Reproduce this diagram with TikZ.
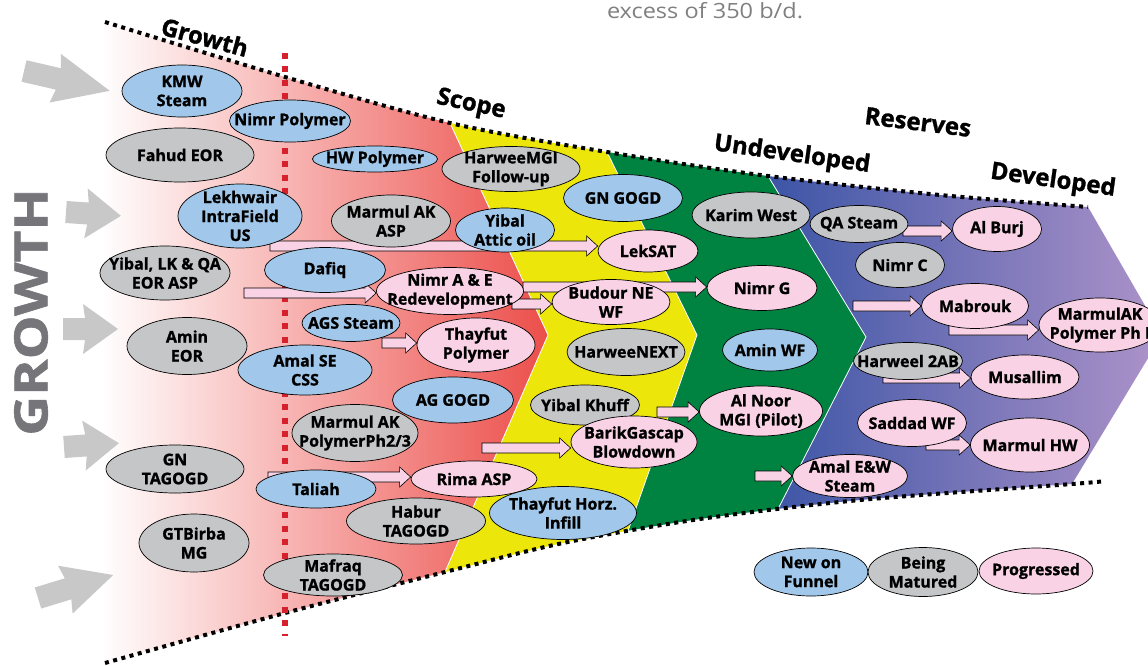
\documentclass[tikz,border=0pt]{standalone}
\usepackage{fontspec}
\setmainfont{Open Sans}[BoldFeatures={FakeBold=1.2}]
\usetikzlibrary{shapes.geometric,calc}

\definecolor{newblue}{RGB}{161,200,234}
\definecolor{matgray}{RGB}{197,198,200}
\definecolor{progpink}{RGB}{249,211,229}
\definecolor{scopeyellow}{RGB}{237,230,10}
\definecolor{undevgreen}{RGB}{0,130,64}
\definecolor{growred}{RGB}{236,78,74}
\definecolor{devblue}{RGB}{60,85,166}
\definecolor{devlilac}{RGB}{176,148,202}
\definecolor{arrowgray}{RGB}{200,200,201}
\definecolor{titlegray}{RGB}{118,118,122}
\definecolor{notegray}{RGB}{128,128,128}
\definecolor{cutred}{RGB}{214,32,44}

\pgfdeclarelayer{bands}
\pgfdeclarelayer{links}
\pgfsetlayers{bands,links,main}

\tikzset{
  pod/.style={ellipse, draw=black, line width=0.7pt, inner sep=0pt},
  newf/.style={pod, fill=newblue},
  matd/.style={pod, fill=matgray},
  prog/.style={pod, fill=progpink},
  sz/.style 2 args={minimum width=#1pt, minimum height=#2pt},
  podtext/.style={font=\bfseries\fontsize{16}{19}\selectfont, align=center, inner sep=0pt},
  stagetitle/.style={font=\bfseries\fontsize{24}{24}\selectfont, inner sep=0pt},
  funnelline/.style={line width=4pt, dash pattern=on 4pt off 4.5pt},
  cutline/.style={cutred, line width=6pt, dash pattern=on 6pt off 7.5pt},
  pushto/.style={draw=black, line width=0.6pt, fill=progpink,
    to path={let \p1=(\tikztostart), \p2=(\tikztotarget) in
      (\x1,\y1+5pt) -- (\x2-11pt,\y1+5pt) -- (\x2-11pt,\y1+10pt) -- (\x2,\y1)
      -- (\x2-11pt,\y1-10pt) -- (\x2-11pt,\y1-5pt) -- (\x1,\y1-5pt) -- cycle}},
  feedarrow/.pic={\fill[arrowgray] (0,-11) -- (22,-11) -- (20,-25) -- (55,0)
      -- (20,25) -- (22,11) -- (0,11) -- cycle;},
}

\begin{document}
\begin{tikzpicture}[x=1pt, y=-1pt]
  \useasboundingbox (0,0) rectangle (1148,666);

  \begin{pgfonlayer}{bands}
  \fill[white] (0,0) rectangle (1148,666);
  %% funnel bands
  \begin{scope}
    \clip plot[smooth] coordinates {(105,22) (285,77) (450,123) (607,152) (768,176) (940,195) (1088,207)}
      -- (1162,335) -- (1072,484)
      -- plot[smooth] coordinates {(1072,484) (860,500) (700,519) (563,543) (445,572) (285,613) (105,663)}
      -- cycle;
    \shade[left color=white, right color=growred]
      (100,0) -- (450,0) -- (450,123) -- (548,335) -- (445,572) -- (445,666) -- (100,666) -- cycle;
    \fill[scopeyellow]
      (450,0) -- (450,123) -- (548,335) -- (445,572) -- (445,666)
      -- (628,666) -- (628,531) -- (697,335) -- (607,152) -- (607,0) -- cycle;
    \fill[undevgreen]
      (607,0) -- (607,152) -- (697,335) -- (628,531) -- (628,666)
      -- (778,666) -- (778,509) -- (866,337) -- (768,176) -- (768,0) -- cycle;
    \shade[left color=devblue, right color=devlilac]
      (768,0) -- (768,176) -- (866,337) -- (778,509) -- (778,666) -- (1170,666) -- (1170,0) -- cycle;
    \draw[white, line width=0.8pt]
      (450,123) -- (548,335) -- (445,572)
      (607,152) -- (697,335) -- (628,531)
      (768,176) -- (866,337) -- (778,509);
  \end{scope}
  %% funnel edges
  \draw[funnelline] plot[smooth] coordinates {(105,22) (285,77) (450,123) (607,152) (768,176) (940,195) (1088,207)};
  \draw[funnelline] plot[smooth] coordinates {(105,663) (285,613) (445,572) (563,543) (700,519) (860,500) (1072,484) (1105,481)};
  \draw[cutline] (285,53) -- (285,636);
  %% growth feed
  \pic[rotate=-13, xscale=1.6] at (24,71) {feedarrow};
  \pic[rotate=-4] at (66,212) {feedarrow};
  \pic at (63,329) {feedarrow};
  \pic[rotate=4] at (64,447) {feedarrow};
  \pic[rotate=17, xscale=1.43] at (38,598) {feedarrow};
  \end{pgfonlayer}

  \node[rotate=90, font=\bfseries\fontsize{46}{46}\selectfont, text=titlegray, inner sep=0pt]
    (growthtag) at (31,312) {\scalebox{1.2}[1]{GROWTH}};

  %% stage titles
  \node[stagetitle, rotate=-15] (tgrowth) at (205,37) {Growth};
  \node[stagetitle, rotate=-12] (tscope) at (471,105) {Scope};
  \node[stagetitle, rotate=-8] (tundev) at (792,155) {Undeveloped};
  \node[stagetitle, rotate=-7] (treserves) at (918,122) {Reserves};
  \node[stagetitle, rotate=-8] (tdev) at (1053,181) {Developed};
  \node[font=\fontsize{21}{21}\selectfont, text=notegray, inner sep=0pt]
    (note) at (705,11) {\scalebox{1.12}[1]{excess of 350 b/d.}};

  %% arrow tails
  \coordinate (lekT) at (270,246);
  \coordinate (dafT) at (244,293);
  \coordinate (nimrgT) at (523,287);
  \coordinate (budT) at (512,304);
  \coordinate (thayT) at (382,343);
  \coordinate (noorT) at (657,412);
  \coordinate (barikT) at (482,448);
  \coordinate (rimaT) at (268,477);
  \coordinate (amalT) at (755,476);
  \coordinate (burjT) at (903,231);
  \coordinate (mabT) at (853,306);
  \coordinate (makT) at (949,330);
  \coordinate (musT) at (883,378);
  \coordinate (hwT) at (926,445);

  %% projects
  \node[newf, sz={120}{52}, label={[podtext]center:KMW\\Steam}] (kmw) at (182,91) {};
  \node[newf, sz={121}{42}, label={[podtext]center:Nimr Polymer}] (nimrpoly) at (290,121) {};
  \node[matd, sz={148}{54}, label={[podtext]center:Fahud EOR}] (fahud) at (180,155) {};
  \node[newf, sz={125}{26}, label={[podtext]center:HW Polymer}] (hwpoly) at (375,159) {};
  \node[matd, sz={138}{45}, label={[podtext]center:HarweeMGI\\Follow-up}] (harmgi) at (511,169) {};
  \node[newf, sz={119}{47}, label={[podtext]center:GN GOGD}] (gngogd) at (623,198) {};
  \node[matd, sz={118}{46}, label={[podtext]center:Karim West}] (karim) at (751,215) {};
  \node[matd, sz={89}{45}, label={[podtext]center:Nimr C}] (nimrc) at (900,265) {};
  \node[matd, sz={130}{54}, label={[podtext]center:Yibal, LK \& QA\\EOR ASP}] (yibeor) at (165,273) {};
  \node[matd, sz={120}{57}, label={[podtext]center:Amin\\EOR}] (amineor) at (187,346) {};
  \node[matd, sz={138}{48}, label={[podtext]center:GN\\TAGOGD}] (gntag) at (175,469) {};
  \node[matd, sz={110}{58}, label={[podtext]center:GTBirba\\MG}] (gtbirba) at (194,543) {};
  \node[newf, sz={124}{64}, label={[podtext]center:Lekhwair\\IntraField\\US}] (lekhwair) at (240,216) {};
  \node[matd, sz={119}{52}, label={[podtext]center:Marmul AK\\ASP}] (marmulasp) at (391,221) {};
  \node[newf, sz={99}{44}, label={[podtext]center:Yibal\\Attic oil}] (yibattic) at (505,230) {};
  \node[matd, sz={98}{37}, label={[podtext]center:QA Steam}] (qasteam) at (859,224) {};
  \node[prog, sz={89}{45}, label={[podtext]center:Al Burj}] (alburj) at (997,229) {};
  \node[newf, sz={121}{45}, label={[podtext]center:Dafiq}] (dafiq) at (325,270) {};
  \node[prog, sz={100}{42}, label={[podtext]center:LekSAT}] (leksat) at (648,251) {};
  \node[prog, sz={147}{47}, label={[podtext]center:Nimr A \& E\\Redevelopment}] (nimrae) at (450,291) {};
  \node[prog, sz={118}{45}, label={[podtext]center:Budour NE\\WF}] (budour) at (611,302) {};
  \node[prog, sz={110}{45}, label={[podtext]center:Nimr G}] (nimrg) at (762,288) {};
  \node[prog, sz={107}{45}, label={[podtext]center:Mabrouk}] (mabrouk) at (975,306) {};
  \node[prog, sz={122}{54}, label={[podtext]center:MarmulAK\\Polymer Ph I}] (marmulak) at (1100,325) {};
  \node[newf, sz={98}{37}, label={[podtext]center:AGS Steam}] (agssteam) at (351,323) {};
  \node[prog, sz={118}{54}, label={[podtext]center:Thayfut\\Polymer}] (thaypoly) at (476,345) {};
  \node[matd, sz={118}{47}, label={[podtext]center:HarweeNEXT}] (harnext) at (626,352) {};
  \node[newf, sz={95}{42}, label={[podtext]center:Amin WF}] (aminwf) at (770,350) {};
  \node[newf, sz={134}{50}, label={[podtext]center:Amal SE\\CSS}] (amalse) at (305,370) {};
  \node[matd, sz={109}{37}, label={[podtext]center:Harweel 2AB}] (harweel) at (908,361) {};
  \node[prog, sz={108}{44}, label={[podtext]center:Musallim}] (musallim) at (1025,377) {};
  \node[newf, sz={121}{46}, label={[podtext]center:AG GOGD}] (aggogd) at (453,400) {};
  \node[matd, sz={109}{40}, label={[podtext]center:Yibal Khuff}] (yibkhuff) at (585,405) {};
  \node[prog, sz={123}{50}, label={[podtext]center:Al Noor\\MGI (Pilot)}] (alnoor) at (761,411) {};
  \node[prog, sz={109}{47}, label={[podtext]center:Saddad WF}] (saddad) at (912,423) {};
  \node[prog, sz={119}{54}, label={[podtext]center:Marmul HW}] (marmulhw) at (1030,445) {};
  \node[matd, sz={126}{57}, label={[podtext]center:Marmul AK\\PolymerPh2/3}] (marmulph) at (355,433) {};
  \node[prog, sz={126}{52}, label={[podtext]center:BarikGascap\\Blowdown}] (barik) at (634,442) {};
  \node[newf, sz={120}{38}, label={[podtext]center:Taliah}] (taliah) at (316,489) {};
  \node[prog, sz={126}{36}, label={[podtext]center:Rima ASP}] (rima) at (474,479) {};
  \node[matd, sz={139}{46}, label={[podtext]center:Habur\\TAGOGD}] (habur) at (416,521) {};
  \node[newf, sz={147}{53}, label={[podtext]center:Thayfut Horz.\\Infill}] (thayhorz) at (563,513) {};
  \node[prog, sz={115}{43}, label={[podtext]center:Amal E\&W\\Steam}] (amalew) at (850,476) {};
  \node[matd, sz={139}{42}, label={[podtext]center:Mafraq\\TAGOGD}] (mafraq) at (333,575) {};

  %% progress arrows
  \begin{pgfonlayer}{links}
  \draw[pushto] (lekT) to (leksat.west);
  \draw[pushto] (dafT) to (nimrae.west);
  \draw[pushto] (nimrgT) to (nimrg.west);
  \draw[pushto] (budT) to (budour.west);
  \draw[pushto] (thayT) to (thaypoly.west);
  \draw[pushto] (noorT) to (alnoor.west);
  \draw[pushto] (barikT) to (barik.west);
  \draw[pushto] (rimaT) to (rima.west);
  \draw[pushto] (amalT) to (amalew.west);
  \draw[pushto] (burjT) to (alburj.west);
  \draw[pushto] (mabT) to (mabrouk.west);
  \draw[pushto] (makT) to (marmulak.west);
  \draw[pushto] (musT) to (musallim.west);
  \draw[pushto] (hwT) to (marmulhw.west);
  \end{pgfonlayer}

  %% legend
  \node[newf, sz={114}{48}, label={[podtext]center:New on\\Funnel}] (legnew) at (811,572) {};
  \node[matd, sz={110}{49}, label={[podtext]center:Being\\Matured}] (legmat) at (923,572) {};
  \node[prog, sz={114}{46}, label={[podtext]center:Progressed}] (legprog) at (1036,571) {};
\end{tikzpicture}
\end{document}
